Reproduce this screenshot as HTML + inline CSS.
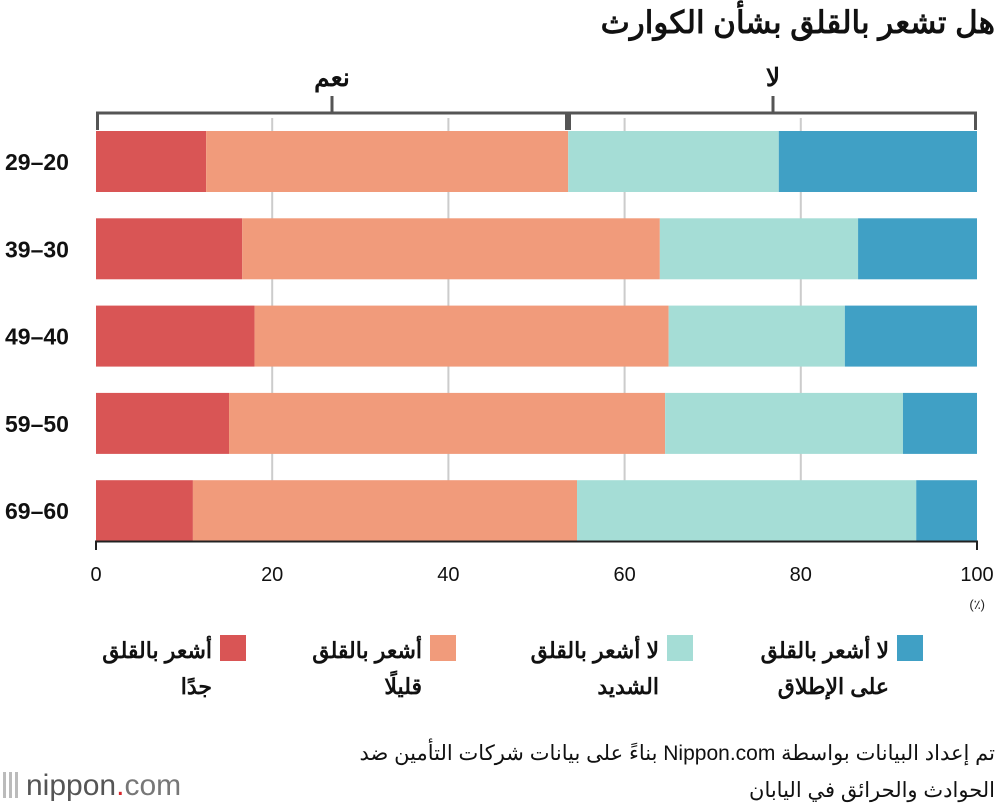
<!DOCTYPE html>
<html><head><meta charset="utf-8">
<style>
body{margin:0;background:#fff;width:1000px;height:810px;overflow:hidden;font-family:"Liberation Sans","Noto Sans CJK SC",sans-serif;position:relative}
.src{position:absolute;right:5px;width:700px;direction:rtl;text-align:right;font-size:21px;color:#111;line-height:37px}
</style></head>
<body>
<svg width="1000" height="810" style="position:absolute;left:0;top:0" xmlns="http://www.w3.org/2000/svg">
<text x="995" y="33" text-anchor="end" font-size="31" font-weight="bold" fill="#111">هل تشعر بالقلق بشأن الكوارث</text>
<g id="grid"></g>
<g id="bars"></g>
<g id="axis"></g>
<g id="bracket" stroke="#555" fill="none">
<line x1="96" y1="113" x2="977" y2="113" stroke-width="3"/>
<line x1="97.5" y1="112" x2="97.5" y2="130" stroke-width="3"/>
<line x1="975.5" y1="112" x2="975.5" y2="130" stroke-width="3"/>
<line x1="568" y1="112" x2="568" y2="130" stroke-width="6"/>
<line x1="332" y1="96" x2="332" y2="113" stroke-width="3"/>
<line x1="773" y1="96" x2="773" y2="113" stroke-width="3"/>
</g>
<text x="332" y="86" text-anchor="middle" font-size="25" font-weight="bold" fill="#111">نعم</text>
<text x="773" y="86" text-anchor="middle" font-size="25" font-weight="bold" fill="#111">لا</text>
<text x="985" y="609" text-anchor="end" font-size="13" fill="#222">(٪)</text>
<g id="legend"></g>
<g>
<rect x="3" y="772" width="3" height="26" fill="#bbb"/><rect x="9" y="772" width="3" height="26" fill="#bbb"/><rect x="15" y="772" width="3" height="26" fill="#bbb"/>
<text x="26" y="795" font-size="30" fill="#555">nippon<tspan fill="#d7262b">.</tspan><tspan fill="#777">com</tspan></text>
</g>
</svg>
<div class="src" style="top:735px">تم إعداد البيانات بواسطة Nippon.com بناءً على بيانات شركات التأمين ضد</div>
<div class="src" style="top:772px">الحوادث والحرائق في اليابان</div>
<script>
const categories=["29–20","39–30","49–40","59–50","69–60"];
const veryWorried=[12.5,16.6,18.0,15.1,11.0];
const slightlyWorried=[41.1,47.4,47.0,49.5,43.6];
const notVeryWorried=[23.9,22.5,20.0,27.0,38.5];
const notAtAll=[22.5,13.5,15.0,8.4,6.9];
const ticks=[0,20,40,60,80,100];
const seriesNames=["أشعر بالقلق جدًا","أشعر بالقلق قليلًا","لا أشعر بالقلق الشديد","لا أشعر بالقلق على الإطلاق"];
const colors=["#d95555","#f19b7b","#a5ddd6","#40a0c5"];
const NS="http://www.w3.org/2000/svg";
const x=v=>96+v*8.81;
const y=i=>131+i*87.3;
function mk(t,a,p){const e=document.createElementNS(NS,t);for(const k in a)e.setAttribute(k,a[k]);p.appendChild(e);return e;}
const grid=document.getElementById('grid'),bars=document.getElementById('bars'),axis=document.getElementById('axis'),legend=document.getElementById('legend');
ticks.forEach(t=>{
 if(t>0&&t<100){const l=mk('line',{x1:x(t),x2:x(t),y1:118,y2:541,stroke:'#ccc','stroke-width':2},grid);
 
 }
 const tx=mk('text',{x:x(t),y:581,'text-anchor':'middle','font-size':20,fill:'#111'},axis);tx.textContent=t;
 
 
});
const series=[veryWorried,slightlyWorried,notVeryWorried,notAtAll];
categories.forEach((c,i)=>{
 let acc=0;
 series.forEach((s,j)=>{
  const r=mk('rect',{x:x(acc),y:y(i),width:x(acc+s[i])-x(acc),height:61,fill:colors[j]},bars);
  
  
  acc+=s[i];
 });
 const lb=mk('text',{x:5,y:y(i)+39,'font-size':23,'font-weight':'bold',fill:'#111'},axis);lb.textContent=c;
 
 
});
const ax=mk('line',{x1:95,x2:978,y1:541.5,y2:541.5,stroke:'#222','stroke-width':2},axis);


[x(0),x(100)].forEach(v=>{const l=mk('line',{x1:v,x2:v,y1:541,y2:550,stroke:'#222','stroke-width':2},axis);
 
 });
const legX=[246,456,693,923];
const lines=[["أشعر بالقلق","جدًا"],["أشعر بالقلق","قليلًا"],["لا أشعر بالقلق","الشديد"],["لا أشعر بالقلق","على الإطلاق"]];
seriesNames.forEach((n,j)=>{
 const g=mk('g',{},legend);
 
 
 mk('rect',{x:legX[j]-26,y:635,width:26,height:26,fill:colors[j]},g);
 lines[j].forEach((t,k)=>{const tx=mk('text',{x:legX[j]-34,y:658+k*36,'text-anchor':'end','font-size':22,'font-weight':'bold',fill:'#111'},g);tx.textContent=t;});
});
</script>
</body></html>
